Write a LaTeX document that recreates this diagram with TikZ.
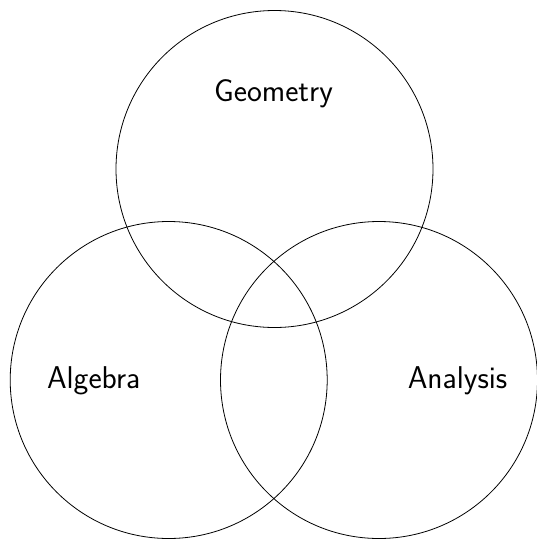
\documentclass[tikz,border=0pt]{standalone}
\begin{document}
\begin{tikzpicture}[x=1pt,y=-1pt,
  setc/.style={draw=black,line width=0.8pt,circle,minimum size=317pt,inner sep=0pt},
  lbl/.style={font=\sffamily\fontsize{31.5}{36}\selectfont,anchor=base,inner sep=0pt}]
\useasboundingbox (0,0) rectangle (537,539);
\node[setc] (geo) at (274.5,169) {};
\node[setc] (alg) at (168.7,380) {};
\node[setc] (ana) at (379,380) {};
\node[lbl] (tgeo) at (273.5,101.7) {Geometry};
\node[lbl] (talg) at (93.7,388.3) {Algebra};
\node[lbl] (tana) at (457.5,388.3) {Analysis};
\end{tikzpicture}
\end{document}
